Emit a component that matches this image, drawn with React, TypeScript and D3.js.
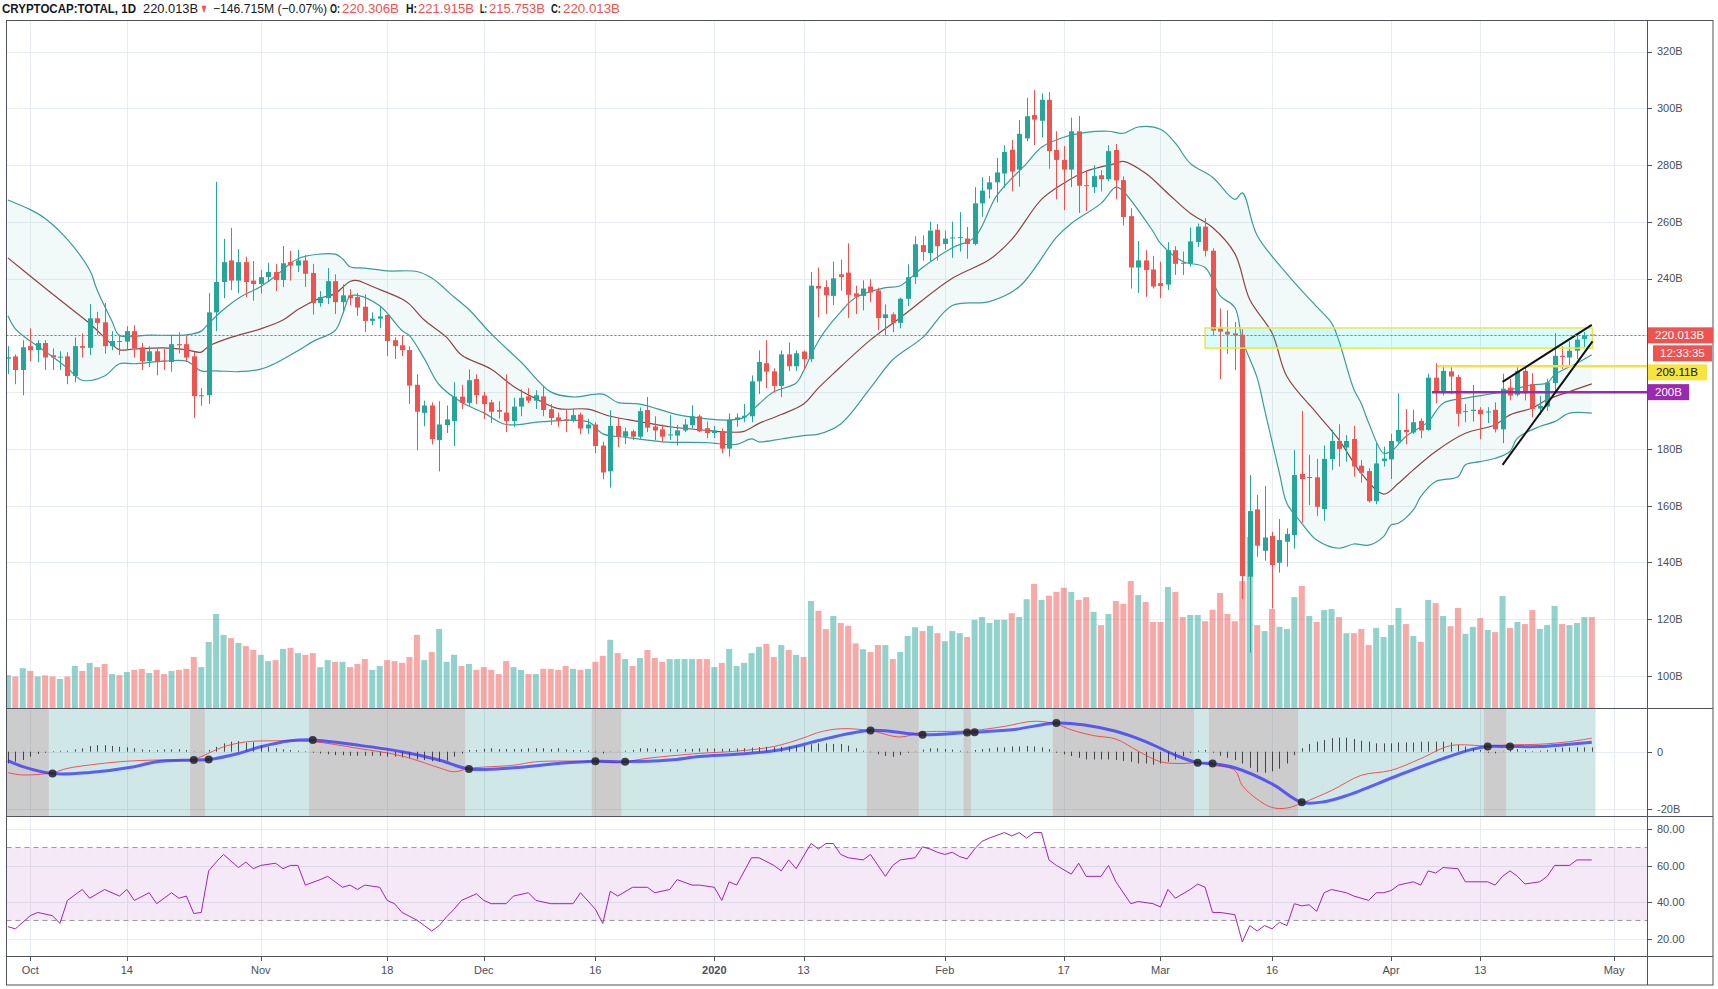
import React from "react";
import * as d3 from "d3";

// ================= DATA =================
// daily candles, first candle 2019-09-28 (day -3 relative to 2019-10-01), last 2020-04-28
const FIRST_DAY_OFFSET = -3;
const opens = [
  211.8, 212.6, 207.8, 216.2, 214.8, 217.3, 213.0, 212.2, 212.6, 205.7, 216.2, 215.6, 226.0,
  224.6, 216.2, 218.0, 217.8, 221.5, 215.8, 210.9, 214.4, 211.1, 210.6,
  216.9, 216.9, 212.6, 198.6, 198.9, 228.1, 238.8, 246.4, 239.3, 245.8,
  239.3, 238.1, 240.5, 242.3, 239.5, 245.8, 244.6, 246.4, 242.0, 231.4,
  233.1, 239.1, 231.7, 234.1, 233.5, 230.1, 225.1, 225.9, 227.2, 218.3,
  216.5, 214.8, 202.6, 192.7, 195.3, 183.1, 188.4, 189.8, 198.4, 196.2,
  204.6, 198.8, 196.4, 193.7, 192.8, 189.8, 194.9, 198.5, 197.0, 198.5,
  194.0, 191.1, 190.4, 190.0, 192.1, 187.2, 188.6, 181.2, 172.1, 188.1,
  184.3, 186.2, 184.3, 193.7, 187.9, 186.9, 185.0, 184.7, 186.5, 188.4,
  191.5, 187.3, 185.6, 186.2, 180.1, 190.2, 191.1, 191.5, 203.8, 210.2,
  207.3, 202.2, 213.3, 209.1, 214.3, 211.6, 237.4, 237.0, 233.9, 241.5,
  242.1, 234.8, 233.9, 237.2, 235.8, 226.1, 227.4, 224.4, 232.9, 240.5,
  251.8, 249.0, 257.2, 252.2, 254.2, 254.5, 254.1, 252.2, 266.5, 271.4,
  273.9, 277.0, 285.4, 278.4, 289.4, 297.6, 295.6, 303.0, 285.3, 281.8,
  278.4, 291.9, 272.9, 272.2, 276.4, 275.0, 285.3, 274.7, 262.0, 243.9,
  246.4, 243.2, 238.4, 237.9, 250.0, 245.6, 245.3, 252.9, 258.3, 249.8,
  222.7, 221.3, 220.7, 220.2, 135.0, 158.7, 144.1, 149.3, 139.9, 147.3,
  149.6, 171.2, 169.9, 170.0, 158.8, 176.4, 182.8, 180.5, 183.5, 174.1,
  172.2, 161.6, 175.7, 176.3, 182.6, 186.7, 185.8, 189.9, 186.7, 205.1,
  200.2, 207.3, 205.3, 193.0, 193.4, 193.8, 192.9, 193.8, 186.9, 201.6,
  199.1, 207.5, 202.8, 194.2, 194.9, 203.2, 212.8, 212.2, 214.6, 218.7, 220.306,
];
const highs = [
  216.2, 213.3, 218.3, 222.5, 218.3, 218.3, 215.4, 214.4, 214.1, 219.3, 220.7, 231.0, 228.3,
  231.4, 221.5, 219.9, 223.2, 223.6, 217.3, 216.2, 215.4, 215.4, 220.2,
  221.1, 219.9, 214.3, 201.4, 234.9, 274.1, 254.0, 257.9, 250.4, 247.7,
  246.2, 243.0, 245.6, 245.2, 251.5, 249.8, 250.1, 248.3, 245.2, 235.6,
  243.7, 241.5, 238.0, 236.3, 234.9, 234.4, 228.1, 230.4, 227.3, 219.3,
  219.9, 216.2, 206.3, 197.0, 196.4, 196.8, 195.3, 203.5, 202.6, 208.0,
  206.3, 200.1, 197.3, 196.8, 206.3, 198.0, 201.0, 201.4, 200.7, 202.2,
  195.8, 192.8, 193.8, 194.0, 192.8, 190.6, 189.4, 182.5, 193.6, 190.9,
  187.5, 186.8, 194.6, 198.3, 191.5, 188.6, 191.9, 188.4, 190.5, 195.3,
  192.1, 189.6, 188.1, 187.2, 192.5, 192.5, 195.8, 205.9, 214.7, 218.3,
  208.4, 214.7, 217.5, 214.7, 214.7, 242.3, 243.9, 239.4, 246.0, 246.7,
  252.4, 237.5, 239.4, 239.8, 236.8, 230.9, 228.1, 233.3, 245.0, 254.9,
  255.2, 260.1, 259.2, 256.9, 260.1, 263.4, 258.2, 272.2, 275.7, 276.1,
  282.5, 287.0, 288.8, 295.9, 303.7, 306.4, 305.2, 305.7, 291.9, 286.7,
  296.7, 297.3, 278.2, 279.9, 278.2, 287.0, 287.4, 276.0, 264.8, 253.2,
  250.0, 248.0, 246.0, 252.8, 251.4, 249.5, 258.0, 259.4, 261.3, 250.7,
  229.5, 228.8, 224.7, 222.2, 170.8, 163.8, 166.9, 150.8, 155.3, 152.0,
  179.6, 193.4, 177.9, 176.5, 181.2, 186.7, 188.7, 184.9, 188.1, 176.1,
  173.2, 182.0, 180.8, 185.3, 199.6, 194.1, 193.8, 190.8, 206.5, 210.2,
  209.6, 209.1, 206.1, 195.8, 202.6, 194.7, 194.7, 196.4, 206.5, 204.7,
  209.3, 209.6, 206.7, 198.7, 204.7, 220.8, 216.1, 217.9, 220.2, 221.2, 221.915,
];
const lows = [
  206.3, 202.8, 198.9, 210.9, 210.6, 207.8, 207.8, 207.8, 202.8, 203.5, 212.2, 213.1, 220.2,
  213.6, 214.8, 213.1, 214.8, 212.2, 207.8, 208.9, 205.9, 207.8, 207.2,
  213.6, 210.6, 190.9, 195.2, 195.8, 221.5, 233.1, 235.9, 234.9, 233.5,
  232.2, 234.7, 238.8, 235.6, 237.0, 239.3, 242.3, 237.0, 227.3, 230.1,
  231.0, 227.5, 227.9, 230.6, 226.9, 221.1, 223.6, 222.6, 212.7, 211.7,
  212.7, 195.8, 179.5, 188.0, 181.6, 172.1, 185.6, 181.0, 194.1, 194.8,
  195.8, 190.5, 189.1, 190.7, 185.9, 187.8, 191.5, 196.2, 194.1, 191.5,
  188.4, 187.8, 185.9, 189.4, 185.2, 185.3, 178.5, 169.3, 166.4, 180.6,
  181.6, 183.1, 183.5, 185.9, 183.1, 182.5, 183.1, 181.2, 185.9, 187.2,
  185.9, 183.7, 183.8, 178.5, 177.3, 187.8, 189.4, 189.4, 199.3, 201.4,
  199.8, 198.3, 207.4, 207.5, 208.1, 210.6, 226.4, 227.5, 230.7, 235.7,
  226.1, 227.5, 228.8, 231.7, 221.8, 219.9, 221.1, 222.5, 230.3, 238.1,
  246.3, 246.0, 246.3, 250.2, 247.3, 249.5, 247.0, 251.7, 261.8, 268.3,
  266.8, 272.0, 270.7, 272.4, 288.4, 287.0, 289.8, 278.7, 267.9, 264.1,
  272.2, 263.1, 263.8, 270.2, 270.7, 274.3, 267.9, 258.7, 236.5, 235.0,
  233.6, 236.5, 233.1, 236.0, 241.3, 241.3, 244.2, 251.2, 247.8, 219.9,
  204.6, 213.5, 207.8, 127.1, 108.2, 142.0, 140.6, 123.8, 136.4, 138.5,
  144.9, 154.0, 160.2, 156.4, 154.7, 172.6, 173.8, 175.5, 170.2, 168.1,
  161.1, 160.5, 173.8, 169.4, 182.0, 181.6, 185.2, 183.8, 186.4, 196.1,
  198.8, 199.3, 187.9, 189.4, 189.6, 183.4, 189.1, 185.8, 182.0, 197.1,
  198.5, 197.1, 191.1, 192.0, 193.4, 200.2, 208.2, 209.6, 211.6, 215.9, 215.753,
];
const closes = [
  212.3, 207.8, 215.8, 214.8, 217.3, 212.2, 212.2, 212.5, 205.7, 216.2, 215.6, 226.0, 224.4,
  216.2, 218.0, 217.8, 221.5, 215.4, 210.9, 214.4, 210.6, 210.9, 216.9,
  216.5, 212.2, 198.6, 198.9, 228.1, 238.8, 245.8, 239.3, 245.8, 238.8,
  238.1, 240.5, 242.3, 239.5, 245.4, 244.6, 246.4, 241.7, 231.4, 233.5,
  239.1, 231.7, 234.1, 233.1, 229.8, 225.1, 225.9, 226.7, 218.0, 216.2,
  214.8, 202.3, 193.1, 195.3, 183.5, 188.6, 190.4, 198.4, 196.2, 204.2,
  199.0, 195.8, 193.1, 193.1, 189.8, 194.9, 198.0, 197.0, 198.9, 193.7,
  190.9, 189.9, 190.1, 191.9, 187.2, 188.6, 181.0, 171.7, 188.1, 184.3,
  186.2, 184.3, 193.3, 187.5, 186.5, 184.3, 185.1, 186.5, 188.6, 191.5,
  186.2, 185.6, 186.5, 180.1, 190.2, 191.1, 191.7, 203.8, 210.6, 207.2,
  202.2, 213.3, 209.1, 213.7, 211.6, 237.5, 236.5, 234.1, 240.1, 240.6,
  234.3, 233.6, 236.5, 235.1, 226.1, 227.4, 224.4, 232.9, 240.5, 252.1,
  249.4, 256.9, 251.4, 254.1, 254.5, 254.6, 252.2, 266.5, 271.0, 273.9,
  277.4, 284.6, 277.7, 291.0, 297.2, 296.0, 303.0, 284.9, 281.8, 278.4,
  291.9, 272.7, 272.6, 276.1, 275.0, 284.9, 274.6, 261.7, 243.9, 246.4,
  243.0, 237.2, 237.4, 250.0, 245.2, 245.2, 253.1, 258.3, 249.8, 221.7,
  221.3, 220.3, 219.9, 135.2, 158.1, 145.9, 148.8, 139.1, 147.9, 150.0,
  170.8, 169.4, 170.1, 159.6, 176.5, 182.8, 180.0, 182.8, 173.8, 171.6,
  161.6, 174.9, 176.6, 182.8, 186.7, 185.9, 189.4, 186.5, 205.1, 200.2,
  207.5, 205.5, 192.4, 193.3, 193.8, 192.2, 193.2, 186.9, 201.2, 198.8,
  207.5, 199.6, 194.1, 195.2, 203.4, 212.8, 212.4, 214.6, 218.5, 220.0, 220.013,
];
const volumes = [
  94, 90, 114, 106, 90, 93, 90, 83, 90, 120, 106, 129, 117,
  126, 97, 94, 103, 109, 112, 100, 109, 97, 106,
  109, 112, 146, 117, 189, 269, 209, 200, 186, 177,
  166, 152, 134, 137, 169, 172, 157, 152, 157, 117,
  137, 132, 132, 117, 126, 140, 109, 120, 137, 134,
  129, 146, 209, 137, 160, 226, 132, 152, 120, 126,
  109, 117, 109, 97, 134, 117, 109, 97, 97, 112,
  112, 109, 120, 112, 109, 112, 132, 149, 195, 157,
  140, 120, 143, 166, 143, 132, 140, 140, 140, 140,
  140, 140, 117, 129, 169, 120, 129, 157, 175, 183,
  146, 180, 166, 152, 146, 306, 278, 226, 263, 243,
  235, 185, 168, 160, 180, 180, 140, 160, 206, 231,
  220, 235, 214, 191, 220, 214, 203, 252, 260, 243,
  252, 252, 271, 260, 311, 355, 309, 321, 332, 344,
  332, 309, 317, 275, 237, 269, 306, 298, 363, 323,
  303, 246, 246, 346, 332, 260, 266, 266, 248, 281,
  329, 269, 248, 363, 489, 237, 220, 283, 232, 226,
  317, 349, 263, 246, 280, 283, 260, 214, 214, 226,
  180, 229, 203, 237, 286, 240, 206, 189, 309, 300,
  263, 234, 286, 212, 232, 257, 223, 217, 320, 229,
  246, 240, 280, 226, 237, 292, 240, 237, 243, 260, 260,
];

// Bands: [day (0 = 2019-10-01), value in B]
const bandUpper: [number, number][] = [
  [-3, 267.7], [0, 264.3], [2, 261.2], [5, 253.8], [8, 243.0], [9, 236.0], [11, 225.0], [12, 220.0],
  [16, 220.1], [21, 220.2], [23, 221.5], [24, 224.2], [26, 229.1], [28, 233.1], [31, 237.2], [33, 240.9],
  [36, 247.0], [41, 248.6], [42, 247.0], [43, 244.2], [45, 243.7], [48, 242.7], [52, 242.5], [54, 240.2],
  [57, 233.5], [59, 229.1], [62, 220.5], [66, 210.6], [70, 200.1], [73, 198.3], [77, 199.3], [79, 196.4],
  [82, 195.8], [87, 192.1], [91, 190.6], [94, 190.2], [96, 191.1], [98, 195.8], [100, 200.1], [103, 203.2],
  [104, 207.5], [105, 213.0], [106, 218.0], [107, 222.0], [109, 228.3], [111, 233.3], [115, 236.8],
  [117, 237.5], [120, 243.9], [124, 250.9], [127, 254.5], [130, 269.3], [134, 280.6], [136, 286.3],
  [139, 289.8], [142, 291.5], [145, 291.9], [147, 291.2], [149, 293.4], [152, 292.6], [154, 287.7],
  [156, 280.6], [159, 275.7], [162, 267.9], [163, 270.2], [165, 255.2], [169, 241.7], [173, 230.1],
  [175, 224.4], [176, 218.0], [178, 201.0], [179, 196.0], [180, 189.1], [182, 178.5], [183, 179.1],
  [185, 184.4], [188, 189.6], [190, 196.1], [193, 197.9], [197, 199.6], [198, 200.2], [202, 202.6],
  [204, 203.2], [205, 206.1], [208, 210.2], [210, 213.2],
];
const bandMiddle: [number, number][] = [
  [-3, 247.3], [0, 240.9], [5, 230.4], [8, 224.2], [11, 216.8], [12, 214.9], [14, 215.2], [18, 215.6],
  [21, 214.9], [23, 214.1], [24, 216.2], [27, 219.3], [31, 222.3], [34, 225.4], [36, 229.1], [39, 233.1],
  [41, 234.7], [43, 239.0], [44, 239.3], [46, 237.2], [50, 232.8], [51, 231.0], [53, 225.4], [56, 219.3],
  [58, 213.1], [62, 208.1], [65, 202.0], [68, 197.7], [71, 194.2], [75, 194.0], [78, 191.5], [82, 189.6],
  [86, 187.8], [91, 186.5], [94, 185.9], [96, 186.2], [98, 189.0], [101, 192.1], [104, 195.8], [106, 201.5],
  [108, 206.5], [113, 218.4], [117, 226.2], [124, 240.1], [129, 246.7], [132, 253.8], [136, 267.9],
  [139, 273.6], [142, 277.8], [146, 280.6], [147, 281.3], [150, 277.1], [153, 270.0], [156, 263.0],
  [159, 258.0], [162, 248.8], [164, 232.6], [167, 220.8], [169, 205.5], [173, 192.6], [176, 183.2],
  [179, 171.4], [182, 164.1], [184, 167.9], [186, 172.6], [189, 179.1], [193, 185.5], [197, 188.5],
  [199, 192.0], [202, 194.4], [204, 197.3], [207, 200.2], [210, 202.9],
];
const bandLower: [number, number][] = [
  [-3, 226.9], [-2, 222.3], [0, 218.0], [3, 212.5], [5, 208.5], [7, 204.2], [10, 205.7], [12, 210.0],
  [14, 210.0], [18, 210.9], [21, 210.9], [23, 207.5], [25, 207.5], [28, 207.2], [31, 208.1], [33, 210.2],
  [36, 214.6], [38, 217.8], [41, 221.7], [42, 227.3], [43, 233.8], [44, 234.1], [47, 230.4], [50, 221.7],
  [51, 219.9], [53, 211.8], [55, 202.6], [58, 196.4], [61, 192.7], [64, 188.6], [69, 189.6], [75, 189.6],
  [77, 185.3], [80, 184.1], [85, 182.5], [91, 182.2], [95, 181.6], [97, 183.5], [98, 182.5], [101, 183.5],
  [104, 184.7], [106, 185.2], [109, 188.8], [113, 201.5], [116, 211.4], [120, 219.2], [124, 230.5],
  [129, 231.9], [133, 237.1], [138, 254.5], [140, 259.4], [144, 266.5], [146, 272.2], [147, 270.7],
  [151, 256.6], [152, 252.4], [155, 246.0], [158, 243.9], [160, 234.0], [162, 229.8], [163, 218.4],
  [165, 205.0], [166, 193.8], [168, 171.4], [169, 160.8], [171, 153.8], [173, 147.9], [176, 145.0],
  [178, 146.5], [180, 146.1], [182, 149.1], [183, 153.2], [184, 153.8], [186, 158.5], [187, 163.2],
  [189, 168.5], [192, 170.2], [193, 174.4], [195, 175.5], [197, 176.7], [199, 179.1], [200, 183.8],
  [203, 187.9], [205, 189.6], [207, 192.6], [210, 192.6],
];

// MACD-style pane (B)
const macdBlue: [number, number][] = [
  [-3, -3.1], [-1, -5.2], [3, -7.6], [8, -7.2], [14, -5.2], [17, -3.5], [22, -2.9], [24, -2.7], [28, -0.6],
  [31, 1.7], [35, 3.8], [38, 4.1], [44, 2.3], [50, 0], [55, -2.9], [59, -6.0], [65, -5.6], [71, -4.1],
  [76, -3.3], [80, -3.5], [86, -2.9], [90, -1.7], [95, -0.9], [100, 0.3], [104, 2.5], [106, 3.9],
  [113, 7.4], [120, 5.9], [126, 6.7], [127, 6.8], [132, 7.6], [138, 10.0], [142, 9.2], [146, 7.1],
  [150, 3.5], [154, -1.2], [157, -3.8], [159, -4.1], [162, -5.6], [167, -11.2], [171, -17.6], [174, -17.4],
  [177, -15.3], [184, -8.2], [190, -2.4], [194, 0.9], [196, 1.8], [199, 1.8], [203, 1.8], [207, 2.6], [210, 3.3],
];
const macdRed: [number, number][] = [
  [-3, -7.3], [-1, -8.1], [3, -7.3], [5, -5.8], [9, -4.3], [13, -3.3], [17, -2.9], [22, -2.7], [23, -1.7],
  [26, 1.7], [29, 3.4], [33, 3.8], [38, 3.5], [44, 1.2], [50, -1.5], [55, -5.6], [57, -7.0], [59, -5.8],
  [65, -4.7], [68, -3.5], [76, -3.4], [79, -3.8], [83, -2.3], [90, -0.6], [95, 0.2], [100, 1.8], [104, 4.8],
  [106, 6.7], [109, 8.0], [113, 7.3], [117, 5.1], [120, 6.8], [125, 7.1], [127, 7.4], [131, 8.8], [135, 10.6],
  [138, 9.6], [140, 7.6], [143, 5.6], [146, 4.4], [149, 0.2], [152, -3.5], [155, -4.1], [157, -3.8],
  [159, -4.7], [162, -6.5], [163, -11.8], [165, -16.5], [167, -19.4], [169, -19.6], [171, -17.9],
  [175, -13.5], [179, -8.2], [183, -6.5], [187, -2.4], [191, 2.1], [196, 2.0], [199, 2.4], [203, 2.6],
  [207, 3.5], [210, 4.7],
];
// histogram per candle (B), same order as candles
const macdHist = [
  -4.1, -3.5, -2.9, -1.7, -0.8, -0.35, 0.2, 0.3, 0.35, 0.8, 1.2, 2.0, 2.3,
  2.3, 2.0, 1.7, 1.5, 1.2, 0.8, 0.6, 0.6, 0.8, 0.8,
  0.9, 0.6, -0.1, -0.05, 0.6, 1.7, 2.9, 3.5, 3.7, 3.1,
  3.3, 2.3, 1.7, 1.2, 0.8, 0.6, 0.35, 0.2, -0.35, -0.6,
  -0.9, -1.2, -1.2, -1.4, -1.4, -1.4, -1.4, -1.5, -1.7, -1.7,
  -2.0, -2.3, -2.7, -2.9, -3.3, -3.5, -3.1, -1.7, -0.6, 0.6,
  0.6, 1.0, 1.2, 0.9, 0.9, 0.9, 0.9, 1.2, 1.2, 1.2,
  0.9, 1.2, 0.8, 0.6, 0.6, 0.35, -0.2, -0.6, -0.1, -0.05,
  0.35, 0.6, 1.2, 1.2, 1.0, 0.9, 0.9, 0.8, 0.9, 1.0,
  1.2, 1.1, 1.1, 1.0, 1.1, 1.1, 1.2, 1.4, 1.6, 1.7,
  1.5, 1.7, 1.8, 2.0, 2.0, 2.6, 2.9, 2.9, 2.7, 2.7,
  2.1, 1.2, 0.35, -0.2, -0.9, -1.5, -1.8, -1.2, -0.35, -0.1,
  0.7, 1.2, 1.2, 0.9, 0.7, 0.35, -0.2, 0.6, 0.9, 1.2,
  1.5, 1.5, 1.8, 1.8, 2.0, 1.8, 1.5, 0.9, -0.35, -0.9,
  -1.5, -2.1, -2.7, -2.7, -2.7, -2.7, -2.9, -3.2, -3.5, -4.1,
  -4.1, -4.5, -4.1, -3.5, -2.7, -1.5, -0.35, 0.35, 0.6, -0.35,
  -1.4, -2.1, -2.9, -4.1, -5.6, -7.1, -7.3, -6.8, -5.9, -4.1,
  -1.2, 1.2, 2.7, 3.5, 4.1, 4.7, 4.9, 4.9, 4.4, 3.8,
  3.5, 2.9, 2.9, 2.9, 3.2, 3.2, 3.2, 3.5, 3.5, 3.5,
  3.5, 3.2, 2.4, 1.8, 1.2, 0.6, -0.35, -0.6, -0.1, 0.6,
  0.9, 0.6, 0.2, 0.35, 0.6, 1.2, 1.4, 1.5, 1.5, 1.5, 1.5,
];
// bars where the pane background is gray (inclusive day ranges); other bars are teal
const grayRanges: [number, number][] = [
  [-3, 2], [22, 23], [38, 58], [76, 79], [113, 119], [126, 126], [138, 156], [159, 170], [196, 198],
];
// crossing markers [day, value B]
const crossDots: [number, number][] = [
  [3, -7.6], [22, -2.9], [24, -2.7], [38, 4.1], [59, -6.0], [76, -3.3], [80, -3.5], [113, 7.4], [120, 5.9],
  [126, 6.7], [127, 6.8], [138, 10.0], [157, -3.8], [159, -4.1], [171, -17.6], [196, 1.8], [199, 1.8],
];

// RSI points [day, value]
const rsiPoints: [number, number][] = [
  [-3, 26.6], [-2, 25.4], [0, 32.6], [1, 34.4], [3, 32.6], [4, 28.4], [5, 41.0], [7, 47.0], [8, 42.2],
  [10, 47.0], [11, 45.2], [12, 43.4], [13, 47.0], [14, 41.0], [16, 45.2], [17, 39.2], [19, 45.2], [20, 42.2],
  [21, 43.4], [22, 33.8], [23, 34.4], [24, 57.2], [25, 62.0], [26, 66.2], [28, 59.0], [29, 62.0], [30, 58.4],
  [31, 60.2], [33, 61.4], [34, 58.4], [35, 60.2], [36, 60.2], [37, 49.4], [39, 52.4], [40, 54.2], [42, 48.2],
  [43, 49.4], [44, 47.0], [45, 49.4], [47, 48.2], [48, 41.0], [49, 39.2], [50, 34.4], [52, 30.2], [53, 27.2],
  [54, 24.2], [55, 27.2], [56, 32.0], [57, 36.2], [58, 41.0], [60, 44.6], [61, 41.0], [62, 39.2], [64, 39.2],
  [65, 43.4], [67, 45.2], [68, 41.0], [70, 39.2], [71, 39.2], [73, 39.2], [74, 45.2], [76, 36.2], [77, 28.4],
  [78, 46.0], [79, 43.4], [81, 48.2], [83, 48.2], [84, 45.2], [86, 47.0], [87, 52.4], [89, 49.4], [90, 49.4],
  [92, 48.2], [93, 41.0], [94, 51.2], [95, 49.4], [97, 64.4], [98, 64.4], [100, 60.2], [101, 57.2],
  [102, 63.2], [103, 58.4], [105, 72.2], [106, 69.2], [107, 72.2], [108, 72.2], [109, 66.2], [110, 64.4],
  [112, 63.2], [113, 66.2], [114, 60.2], [115, 54.2], [116, 60.2], [117, 63.2], [119, 64.4], [120, 70.4],
  [121, 69.2], [122, 67.4], [123, 66.2], [124, 67.4], [125, 65.0], [126, 63.8], [127, 69.2], [128, 73.4],
  [129, 75.2], [131, 78.2], [132, 76.4], [133, 78.2], [134, 75.2], [135, 78.2], [136, 78.2], [137, 63.2],
  [138, 60.2], [140, 55.4], [141, 61.4], [142, 54.2], [144, 54.2], [145, 60.2], [146, 51.2], [148, 39.2],
  [149, 40.4], [151, 39.2], [152, 37.4], [153, 47.0], [154, 42.2], [156, 47.0], [157, 50.0], [158, 48.2],
  [159, 34.4], [160, 34.4], [162, 33.2], [163, 18.2], [164, 27.2], [165, 24.2], [166, 27.2], [167, 25.4],
  [168, 29.0], [169, 27.2], [170, 39.2], [171, 38.0], [172, 38.6], [173, 35.0], [174, 45.2], [175, 47.0],
  [177, 45.2], [178, 43.4], [180, 41.0], [181, 45.2], [182, 45.2], [183, 46.4], [184, 49.4], [186, 51.2],
  [187, 49.4], [188, 57.2], [189, 56.0], [190, 59.0], [192, 58.4], [193, 51.2], [195, 51.2], [196, 51.2],
  [197, 49.4], [198, 54.2], [199, 57.2], [200, 54.2], [201, 50.0], [203, 51.2], [204, 54.2], [205, 60.2],
  [207, 60.2], [208, 63.2], [210, 63.2],
];

// drawings
const zoneRect = { d0: 158, d1: 210.1, top: 222.6, bottom: 215.5 };
const wedgeLines: [number, number][][] = [
  [[198, 203.6], [210, 223.7]],
  [[198, 174.4], [210.1, 217.9]],
];
const yellowLevel = { day: 189.2, value: 209.11, label: "209.11B" };
const purpleLevel = { day: 188.5, value: 200, label: "200B" };
const lastPrice = { value: 220.013, label: "220.013B", countdown: "12:33:35" };

const timeTickDays = [0, 13, 31, 48, 61, 76, 92, 104, 123, 139, 152, 167, 183, 195, 213];
const timeTickLabels = ["Oct", "14", "Nov", "18", "Dec", "16", "2020", "13", "Feb", "17", "Mar", "16", "Apr", "13", "May"];
const priceTicks = [100, 120, 140, 160, 180, 200, 220, 240, 260, 280, 300, 320];
const priceTickLabels = ["100B", "120B", "140B", "160B", "180B", "200B", "220B", "240B", "260B", "280B", "300B", "320B"];
const macdTicks = [0, -20];
const macdTickLabels = ["0", "-20B"];
const rsiTicks = [80, 60, 40, 20];
const rsiTickLabels = ["80.00", "60.00", "40.00", "20.00"];

// header pieces: text, left x, width, colour, weight
const headerParts = [
  { t: "CRYPTOCAP:TOTAL, 1D", x: 2, w: 134, c: "#131722", b: 700 },
  { t: "220.013B", x: 143, w: 55, c: "#131722", b: 400 },
  { t: "▼", x: 200, w: 8, c: "#ef5350", b: 400 },
  { t: "−146.715M (−0.07%)", x: 213, w: 114, c: "#131722", b: 400 },
  { t: "O:", x: 330, w: 10, c: "#131722", b: 700 },
  { t: "220.306B", x: 342, w: 57, c: "#ef5350", b: 400 },
  { t: "H:", x: 406, w: 11, c: "#131722", b: 700 },
  { t: "221.915B", x: 418, w: 56, c: "#ef5350", b: 400 },
  { t: "L:", x: 480, w: 7, c: "#131722", b: 700 },
  { t: "215.753B", x: 489, w: 56, c: "#ef5350", b: 400 },
  { t: "C:", x: 551, w: 10, c: "#131722", b: 700 },
  { t: "220.013B", x: 563, w: 57, c: "#ef5350", b: 400 },
];

// ================= LAYOUT =================
const W = 1718;
const H = 989;
const PL = 6.5;
const PR = 1647;
const AR = 1713;
const MAIN_T = 21;
const MAIN_B = 708;
const MACD_B = 816;
const RSI_B = 956;
const AX_B = 985;
const UP = "#26a69a";
const DOWN = "#ef5350";
const GRID = "#e6edf2";
const FRAME = "#50535e";
const TXT = "#4a4e59";
const FONT = "'Liberation Sans', Arial, sans-serif";
const DAY_MS = 86400000;
const OCT1 = Date.UTC(2019, 9, 1);
const dayDate = (d: number) => new Date(OCT1 + d * DAY_MS);

export default function App() {
  const x = d3.scaleUtc().domain([dayDate(-3), dayDate(213)]).range([7.9, 1614.1]);
  const xd = (d: number) => x(dayDate(d));
  const yP = d3.scaleLinear().domain([100, 320]).range([676, 51.5]);
  const yV = d3.scaleLinear().domain([0, 489]).range([MAIN_B, MAIN_B - 171]);
  const yM = d3.scaleLinear().domain([-20, 0]).range([809.2, 751.7]);
  const yR = d3.scaleLinear().domain([20, 80]).range([938.7, 829.3]);

  const candles = closes.map((c, i) => ({
    d: i + FIRST_DAY_OFFSET,
    o: opens[i],
    h: highs[i],
    l: lows[i],
    c,
    v: volumes[i],
    hist: macdHist[i],
  }));

  const bandLine = d3
    .line<[number, number]>()
    .x((p) => xd(p[0]))
    .y((p) => yP(p[1]))
    .curve(d3.curveCatmullRom.alpha(0.5));
  const upperPath = bandLine(bandUpper) || "";
  const lowerPath = bandLine(bandLower) || "";
  const midPath = bandLine(bandMiddle) || "";
  const lowerRev = (bandLine([...bandLower].reverse()) || "").replace(/^M/, "L");
  const fillPath = upperPath + lowerRev + "Z";

  const macdLine = d3
    .line<[number, number]>()
    .x((p) => xd(p[0]))
    .y((p) => yM(p[1]))
    .curve(d3.curveCatmullRom.alpha(0.5));
  const rsiLine = d3
    .line<[number, number]>()
    .x((p) => xd(p[0]))
    .y((p) => yR(p[1]));

  // zones
  const isGray = (d: number) => grayRanges.some(([a, b]) => d >= a && d <= b);
  const zones: { a: number; b: number; gray: boolean }[] = [];
  candles.forEach((k) => {
    const g = isGray(k.d);
    const last = zones[zones.length - 1];
    if (last && last.gray === g) last.b = k.d;
    else zones.push({ a: k.d, b: k.d, gray: g });
  });

  // price axis label boxes with stacking
  const BOX_H = 16;
  const redY = yP(lastPrice.value);
  const redTop = redY - BOX_H / 2;
  const cdTop = redTop + BOX_H + 2;
  const yelNatural = yP(yellowLevel.value) - BOX_H / 2;
  const yelTop = Math.max(yelNatural, cdTop + BOX_H + 3);
  const purTop = Math.max(yP(purpleLevel.value) - BOX_H / 2, yelTop + BOX_H + 3);
  const boxSpans = [
    [redTop, redTop + BOX_H],
    [cdTop, cdTop + BOX_H],
    [yelTop, yelTop + BOX_H],
    [purTop, purTop + BOX_H],
  ];
  const hiddenByBox = (y: number) => boxSpans.some(([a, b]) => y > a - 7 && y < b + 7);

  const bodyW = 5;
  const volW = 6;

  return (
    <svg
      width={W}
      height={H}
      viewBox={`0 0 ${W} ${H}`}
      style={{ position: "absolute", left: 0, top: 0, background: "#fff", fontFamily: FONT }}
    >
      <defs>
        <clipPath id="clipMain">
          <rect x={PL} y={MAIN_T} width={PR - PL} height={MAIN_B - MAIN_T} />
        </clipPath>
        <clipPath id="clipMacd">
          <rect x={PL} y={MAIN_B} width={PR - PL} height={MACD_B - MAIN_B} />
        </clipPath>
        <clipPath id="clipRsi">
          <rect x={PL} y={MACD_B} width={PR - PL} height={RSI_B - MACD_B} />
        </clipPath>
      </defs>

      {/* header */}
      <g fontSize={12.5}>
        {headerParts.map((p, i) => (
          <text
            key={i}
            x={p.x}
            y={12.5}
            fill={p.c}
            fontWeight={p.b}
            textLength={p.w}
            lengthAdjust="spacingAndGlyphs"
          >
            {p.t}
          </text>
        ))}
      </g>

      {/* ---------- grid ---------- */}
      <g stroke={GRID} strokeWidth={1}>
        {priceTicks.map((p) => (
          <line key={"gp" + p} x1={PL} x2={PR} y1={Math.round(yP(p)) + 0.5} y2={Math.round(yP(p)) + 0.5} />
        ))}
        {macdTicks.map((p) => (
          <line key={"gm" + p} x1={PL} x2={PR} y1={Math.round(yM(p)) + 0.5} y2={Math.round(yM(p)) + 0.5} />
        ))}
        {rsiTicks.map((p) => (
          <line key={"gr" + p} x1={PL} x2={PR} y1={Math.round(yR(p)) + 0.5} y2={Math.round(yR(p)) + 0.5} />
        ))}
        {timeTickDays.map((d) => (
          <line key={"gt" + d} x1={Math.round(xd(d)) + 0.5} x2={Math.round(xd(d)) + 0.5} y1={MAIN_T} y2={RSI_B} />
        ))}
      </g>

      {/* ---------- main pane ---------- */}
      <g clipPath="url(#clipMain)">
        {candles.map((k) => (
          <rect
            key={"v" + k.d}
            x={xd(k.d) - volW / 2}
            width={volW}
            y={yV(k.v)}
            height={MAIN_B - yV(k.v)}
            fill={k.c >= k.o ? "rgba(38,166,154,0.5)" : "rgba(239,83,80,0.5)"}
          />
        ))}
        <path d={fillPath} fill="rgba(38,166,154,0.06)" stroke="none" />
        <path d={upperPath} fill="none" stroke="#3b9c97" strokeWidth={1.2} />
        <path d={lowerPath} fill="none" stroke="#3b9c97" strokeWidth={1.2} />
        <path d={midPath} fill="none" stroke="#8d4444" strokeWidth={1.2} />

        {candles.map((k) => {
          const cx = Math.round(xd(k.d)) + 0.5;
          const col = k.c >= k.o ? UP : DOWN;
          const top = yP(Math.max(k.o, k.c));
          const bot = yP(Math.min(k.o, k.c));
          return (
            <g key={"c" + k.d}>
              <line x1={cx} x2={cx} y1={yP(k.h)} y2={yP(k.l)} stroke={col} strokeWidth={1} />
              <rect x={cx - bodyW / 2} width={bodyW} y={top} height={Math.max(1, bot - top)} fill={col} />
            </g>
          );
        })}

        <rect
          x={xd(zoneRect.d0)}
          y={yP(zoneRect.top)}
          width={xd(zoneRect.d1) - xd(zoneRect.d0)}
          height={yP(zoneRect.bottom) - yP(zoneRect.top)}
          fill="rgba(0,235,235,0.15)"
          stroke="#efe447"
          strokeWidth={1.5}
        />
        <line
          x1={xd(yellowLevel.day)}
          x2={PR}
          y1={yP(yellowLevel.value)}
          y2={yP(yellowLevel.value)}
          stroke="#f5e33a"
          strokeWidth={2.5}
        />
        <line
          x1={xd(purpleLevel.day)}
          x2={PR}
          y1={yP(purpleLevel.value)}
          y2={yP(purpleLevel.value)}
          stroke="#9c27b0"
          strokeWidth={2.5}
        />
        {wedgeLines.map((ln, i) => (
          <line
            key={"w" + i}
            x1={xd(ln[0][0])}
            y1={yP(ln[0][1])}
            x2={xd(ln[1][0])}
            y2={yP(ln[1][1])}
            stroke="#111"
            strokeWidth={2}
          />
        ))}
        <line
          x1={PL}
          x2={PR}
          y1={Math.round(redY) + 0.5}
          y2={Math.round(redY) + 0.5}
          stroke={DOWN}
          strokeWidth={1}
          strokeDasharray="2 2"
        />
      </g>

      {/* ---------- MACD pane ---------- */}
      <g clipPath="url(#clipMacd)">
        {zones.map((z, i) => (
          <rect
            key={"z" + i}
            x={xd(z.a - 0.5)}
            width={xd(z.b + 0.5) - xd(z.a - 0.5)}
            y={MAIN_B}
            height={MACD_B - MAIN_B}
            fill={z.gray ? "rgba(120,120,120,0.38)" : "rgba(0,128,128,0.19)"}
          />
        ))}
        {candles.map((k) => {
          const cx = Math.round(xd(k.d)) + 0.5;
          return (
            <line
              key={"h" + k.d}
              x1={cx}
              x2={cx}
              y1={yM(0)}
              y2={yM(k.hist)}
              stroke="#222"
              strokeWidth={1}
              opacity={0.8}
            />
          );
        })}
        <path d={macdLine(macdRed) || ""} fill="none" stroke="#f23c3c" strokeWidth={1} opacity={0.85} />
        <path d={macdLine(macdBlue) || ""} fill="none" stroke="#2b2bff" strokeWidth={3} opacity={0.72} />
        {crossDots.map(([d, v]) => (
          <circle key={"dot" + d} cx={xd(d)} cy={yM(v)} r={4} fill="#222" opacity={0.85} />
        ))}
      </g>

      {/* ---------- RSI pane ---------- */}
      <g clipPath="url(#clipRsi)">
        <rect x={PL} y={yR(70)} width={PR - PL} height={yR(30) - yR(70)} fill="rgba(156,39,176,0.1)" />
        <line x1={PL} x2={PR} y1={yR(70)} y2={yR(70)} stroke="#9598a1" strokeDasharray="5 4" />
        <line x1={PL} x2={PR} y1={yR(30)} y2={yR(30)} stroke="#9598a1" strokeDasharray="5 4" />
        <path d={rsiLine(rsiPoints) || ""} fill="none" stroke="#9c27b0" strokeWidth={1} />
      </g>

      {/* ---------- frame ---------- */}
      <g stroke={FRAME} strokeWidth={1} fill="none">
        <rect x={PL} y={MAIN_T - 0.5} width={AR - PL} height={AX_B - MAIN_T + 0.5} />
        <line x1={PR + 0.5} x2={PR + 0.5} y1={MAIN_T} y2={AX_B} />
        <line x1={PL} x2={AR} y1={MAIN_B + 0.5} y2={MAIN_B + 0.5} />
        <line x1={PL} x2={AR} y1={MACD_B + 0.5} y2={MACD_B + 0.5} />
        <line x1={PL} x2={AR} y1={RSI_B + 0.5} y2={RSI_B + 0.5} />
      </g>

      {/* ---------- price axis ---------- */}
      <g fontSize={11} fill={TXT}>
        {priceTicks.map((p, i) => (
          <g key={"pt" + p}>
            <line x1={PR} x2={PR + 5} y1={Math.round(yP(p)) + 0.5} y2={Math.round(yP(p)) + 0.5} stroke={FRAME} />
            {!hiddenByBox(yP(p)) && (
              <text x={PR + 10} y={yP(p)} dy="0.35em">
                {priceTickLabels[i]}
              </text>
            )}
          </g>
        ))}
        {macdTicks.map((p, i) => (
          <g key={"mt" + p}>
            <line x1={PR} x2={PR + 5} y1={Math.round(yM(p)) + 0.5} y2={Math.round(yM(p)) + 0.5} stroke={FRAME} />
            <text x={PR + 10} y={yM(p)} dy="0.35em">
              {macdTickLabels[i]}
            </text>
          </g>
        ))}
        {rsiTicks.map((p, i) => (
          <g key={"rt" + p}>
            <line x1={PR} x2={PR + 5} y1={Math.round(yR(p)) + 0.5} y2={Math.round(yR(p)) + 0.5} stroke={FRAME} />
            <text x={PR + 10} y={yR(p)} dy="0.35em">
              {rsiTickLabels[i]}
            </text>
          </g>
        ))}
      </g>

      {/* label boxes */}
      <g fontSize={11.5}>
        <rect x={PR + 1} y={redTop} width={AR - PR - 1} height={BOX_H} fill={DOWN} />
        <text x={PR + 8} y={redTop + BOX_H / 2} dy="0.36em" fill="#fff">
          {lastPrice.label}
        </text>
        <rect x={PR + 6} y={cdTop} width={AR - PR - 7} height={BOX_H} fill={DOWN} />
        <text x={PR + 13} y={cdTop + BOX_H / 2} dy="0.36em" fill="#fff">
          {lastPrice.countdown}
        </text>
        <rect x={PR + 1} y={yelTop} width={59} height={BOX_H} fill="#f7e43c" />
        <text x={PR + 9} y={yelTop + BOX_H / 2} dy="0.36em" fill="#111">
          {yellowLevel.label}
        </text>
        <rect x={PR + 1} y={purTop} width={41} height={BOX_H} fill="#9c27b0" />
        <text x={PR + 8} y={purTop + BOX_H / 2} dy="0.36em" fill="#fff">
          {purpleLevel.label}
        </text>
      </g>

      {/* ---------- time axis ---------- */}
      <g fontSize={11} fill={TXT}>
        {timeTickDays.map((d, i) => (
          <g key={"tt" + d}>
            <line x1={Math.round(xd(d)) + 0.5} x2={Math.round(xd(d)) + 0.5} y1={RSI_B} y2={RSI_B + 5} stroke={FRAME} />
            <text
              x={xd(d)}
              y={974}
              textAnchor="middle"
              fontWeight={timeTickLabels[i] === "2020" ? 700 : 400}
            >
              {timeTickLabels[i]}
            </text>
          </g>
        ))}
      </g>
    </svg>
  );
}
